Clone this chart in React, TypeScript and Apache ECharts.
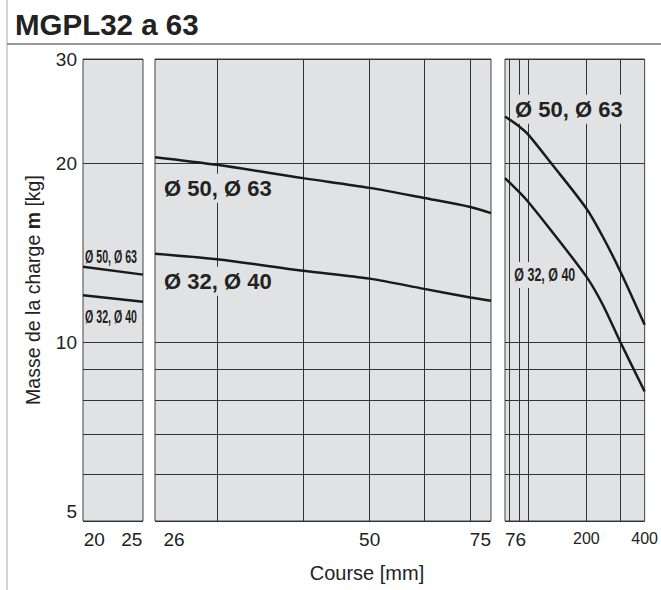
import React, { useEffect, useRef } from "react";
import * as echarts from "echarts";

// ---- data ----
const yTickLabels = [5, 10, 20, 30];
const yGridValues = [5, 6, 7, 8, 9, 10, 20, 30];

const p1TickLabels = [20, 25];
const p1Stroke = [18.5, 26.5];
const p1Upper = [13.4, 13.0];
const p1Lower = [12.0, 11.7];

const p2TickLabels = [26, 50, 75];
const p2GridValues = [30, 40, 50, 60, 70];
const p2Stroke = [24.4, 30, 40, 50, 60, 70, 75];
const p2Upper = [20.5, 19.9, 18.9, 18.2, 17.5, 16.9, 16.5];
const p2Lower = [14.1, 13.8, 13.2, 12.8, 12.3, 11.9, 11.75];

const p3TickLabels = [76, 200, 400];
const p3GridValues = [80, 90, 100, 200, 300];
const p3StrokeUpper = [76, 90, 100, 132, 200, 242, 300, 400];
const p3Upper = [24.0, 23.1, 22.4, 20.0, 16.8, 15.1, 13.15, 10.7];
const p3StrokeLower = [76, 90, 100, 127, 200, 242, 300, 400];
const p3Lower = [18.9, 17.9, 17.25, 15.65, 12.9, 11.6, 10.0, 8.26];

const FONT = "'Liberation Sans', Arial, sans-serif";
const PANEL_BG = "#e1e2e4";
const GRID_COLOR = "#333";
const CURVE = "#1a1a1a";

const pair = (xs: number[], ys: number[]) => xs.map((x, i) => [x, ys[i]]);

export default function App() {
  const ref = useRef<HTMLDivElement>(null);
  useEffect(() => {
    if (!ref.current) return;
    const chart = echarts.init(ref.current, undefined, { renderer: "svg" });

    const gridBase = {
      top: 59,
      height: 462,
      show: true,
      backgroundColor: PANEL_BG,
      borderColor: "#444",
      borderWidth: 1,
      containLabel: false,
    };

    const yAxis = (i: number) => ({
      gridIndex: i,
      type: "log",
      logBase: 10,
      min: 5,
      max: 30,
      axisLine: { show: false },
      axisTick: { show: false, customValues: yGridValues },
      splitLine: { show: true, lineStyle: { color: GRID_COLOR, width: 1 } },
      axisLabel:
        i === 0
          ? {
              show: true,
              customValues: yTickLabels,
              fontSize: 19,
              color: "#222",
              margin: 6,
              fontFamily: FONT,
              verticalAlignMinLabel: "bottom",
            }
          : { show: false },
      ...(i === 0
        ? {
            name: "{a|Masse de la charge }{b|m}{a| [kg]}",
            nameLocation: "middle",
            nameRotate: 90,
            nameGap: 40,
            nameTextStyle: {
              rich: {
                a: { fontSize: 19.5, fontFamily: FONT, color: "#222" },
                b: { fontSize: 19.5, fontFamily: FONT, color: "#222", fontWeight: "bold" },
              },
            },
          }
        : {}),
    });

    const xLabel = {
      fontSize: 19,
      color: "#222",
      margin: 9,
      fontFamily: FONT,
    };

    const lineSeries = (data: number[][], idx: number, smooth: boolean | number) => ({
      type: "line",
      xAxisIndex: idx,
      yAxisIndex: idx,
      data,
      showSymbol: false,
      symbol: "none",
      smooth,
      silent: true,
      lineStyle: { color: CURVE, width: 2.5 },
      z: 3,
    });

    const labelBox = (text: string, x: number, y: number, size: number, scaleX = 1, bg = true) => ({
      type: "text",
      x,
      y,
      scaleX,
      z: 1,
      style: {
        text,
        fontSize: size,
        fontWeight: "bold",
        fontFamily: FONT,
        fill: "#222",
        align: "left",
        verticalAlign: "middle",
        ...(bg ? { backgroundColor: PANEL_BG, padding: [5, 2, 2, 2] } : {}),
      },
    });

    chart.setOption({
      animation: false,
      grid: [
        { ...gridBase, left: 83, width: 60 },
        { ...gridBase, left: 155, width: 336 },
        { ...gridBase, left: 505, width: 146 },
      ],
      xAxis: [
        {
          gridIndex: 0,
          type: "value",
          min: 18.5,
          max: 26.5,
          axisLine: { show: false },
          axisTick: { show: false },
          splitLine: { show: false },
          axisLabel: { ...xLabel, customValues: p1TickLabels },
        },
        {
          gridIndex: 1,
          type: "log",
          logBase: 10,
          min: 24.4,
          max: 75,
          axisLine: { show: false },
          axisTick: { show: false, customValues: p2GridValues },
          splitLine: { show: true, lineStyle: { color: GRID_COLOR, width: 1 } },
          axisLabel: { ...xLabel, customValues: p2TickLabels, alignMaxLabel: "right" },
        },
        {
          gridIndex: 2,
          type: "log",
          logBase: 10,
          min: 76,
          max: 400,
          axisLine: { show: false },
          axisTick: { show: false, customValues: p3GridValues },
          splitLine: { show: true, lineStyle: { color: GRID_COLOR, width: 1 } },
          axisLabel: {
            ...xLabel,
            customValues: p3TickLabels,
            alignMinLabel: "left",
            formatter: (v: number) => (v >= 100 ? "{n|" + v + "}" : String(v)),
            rich: { n: { fontSize: 16, fontFamily: FONT, color: "#222" } },
          },
        },
      ],
      yAxis: [yAxis(0), yAxis(1), yAxis(2)],
      series: [
        lineSeries(pair(p1Stroke, p1Upper), 0, false),
        lineSeries(pair(p1Stroke, p1Lower), 0, false),
        lineSeries(pair(p2Stroke, p2Upper), 1, 0.3),
        lineSeries(pair(p2Stroke, p2Lower), 1, 0.3),
        lineSeries(pair(p3StrokeUpper, p3Upper), 2, 0.3),
        lineSeries(pair(p3StrokeLower, p3Lower), 2, 0.3),
      ],
      graphic: [
        { type: "line", z: 1, shape: { x1: 7, y1: 0, x2: 7, y2: 590 }, style: { stroke: "#aaa", lineWidth: 1 } },
        { type: "line", z: 1, shape: { x1: 7, y1: 44, x2: 661, y2: 44 }, style: { stroke: "#777", lineWidth: 1.5 } },
        {
          type: "text",
          x: 15,
          y: 24.5,
          style: {
            text: "MGPL32 a 63",
            fontSize: 29.5,
            fontWeight: "bold",
            fontFamily: FONT,
            fill: "#222",
            align: "left",
            verticalAlign: "middle",
          },
        },
        {
          type: "text",
          x: 367,
          y: 573,
          style: {
            text: "Course [mm]",
            fontSize: 20,
            fontFamily: FONT,
            fill: "#222",
            align: "center",
            verticalAlign: "middle",
          },
        },
        labelBox("Ø 50, Ø 63", 85, 256.7, 18.5, 0.575, false),
        labelBox("Ø 32, Ø 40", 85, 316.7, 18.5, 0.575, false),
        labelBox("Ø 50, Ø 63", 162, 188.2, 22),
        labelBox("Ø 32, Ø 40", 162, 281.2, 22),
        labelBox("Ø 50, Ø 63", 513, 109.2, 22),
        labelBox("Ø 32, Ø 40", 513, 275, 18.7, 0.667),
      ],
    });

    return () => chart.dispose();
  }, []);

  return (
    <div
      ref={ref}
      style={{ position: "fixed", left: 0, top: 0, width: 661, height: 590, background: "#fff" }}
    />
  );
}
